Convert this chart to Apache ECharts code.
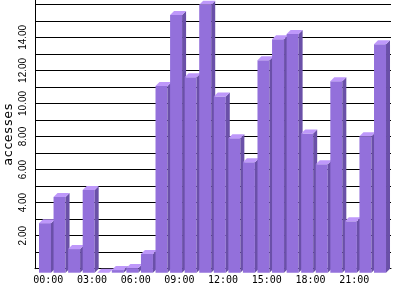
<!DOCTYPE html>
<html>
<head>
<meta charset="utf-8">
<script src="https://cdn.jsdelivr.net/npm/echarts@6/dist/echarts.min.js"></script>
<style>
html,body{margin:0;padding:0;background:#fff;}
#chart{width:400px;height:300px;}
</style>
</head>
<body>
<div id="chart"></div>
<script>
const categories = ["00:00","01:00","02:00","03:00","04:00","05:00","06:00","07:00","08:00","09:00","10:00","11:00","12:00","13:00","14:00","15:00","16:00","17:00","18:00","19:00","20:00","21:00","22:00","23:00"];
const accesses = [3.0, 4.58, 1.43, 5.0, 0, 0.16, 0.28, 1.13, 11.3, 15.59, 11.82, 16.21, 10.67, 8.13, 6.68, 12.85, 14.12, 14.44, 8.43, 6.56, 11.58, 3.11, 8.25, 13.83];
const yLabelValues = [2, 4, 6, 8, 10, 12, 14];
const yName = "accesses";

const FRONT = '#9370DB', SIDE = '#6A50A8', TOP = '#BE98FA';
const chart = echarts.init(document.getElementById('chart'), null, {renderer: 'canvas'});

function renderBar(params, api) {
  const idx = api.value(0), val = api.value(1);
  const pt = api.coord([idx, val]);
  const base = api.coord([idx, 0]);
  const d = 4, w = 12;
  const fx = pt[0] - 9.3;
  const fy = pt[1] + d;
  const fb = base[1] + d;
  return {
    type: 'group',
    children: [
      {type: 'rect', shape: {x: fx, y: fy, width: w, height: fb - fy}, style: {fill: FRONT}},
      {type: 'polygon', shape: {points: [[fx + w, fy], [fx + w + d, fy - d], [fx + w + d, fb - d], [fx + w, fb]]}, style: {fill: SIDE}},
      {type: 'polygon', shape: {points: [[fx, fy], [fx + d, fy - d], [fx + w + d, fy - d], [fx + w, fy]]}, style: {fill: TOP}}
    ]
  };
}

const option = {
  backgroundColor: '#fff',
  animation: false,
  grid: [
    {left: 35, right: 9, top: 4.3, bottom: 31.3, containLabel: false, outerBoundsMode: 'none'},
    {left: 35, right: 9, top: 0, bottom: 31.3, containLabel: false, outerBoundsMode: 'none'},
    {left: 41, width: 349.6, top: 4.3, bottom: 31.3, containLabel: false, outerBoundsMode: 'none'}
  ],
  xAxis: [
    {gridIndex: 0, type: 'value', min: 0, max: 1, axisLine: {show: true, onZero: false, lineStyle: {color: '#000', width: 1}}, axisTick: {show: false}, axisLabel: {show: false}, splitLine: {show: false}},
    {gridIndex: 1, type: 'value', min: 0, max: 1, show: false},
    {gridIndex: 2, type: 'category', data: categories, boundaryGap: true,
      axisLine: {show: false}, axisTick: {show: false}, splitLine: {show: false},
      axisLabel: {interval: 2, margin: 7, color: '#000', fontFamily: 'DejaVu Sans Mono', fontSize: 10}}
  ],
  yAxis: [
    {gridIndex: 0, type: 'value', min: 0, max: 16, interval: 1,
      axisLine: {show: false}, axisTick: {show: false},
      splitLine: {show: true, lineStyle: {color: '#000', width: 1}},
      axisLabel: {rotate: 90, margin: 7, color: '#000', fontFamily: 'Liberation Sans', fontSize: 10,
        formatter: function (v) { return yLabelValues.indexOf(v) >= 0 ? v.toFixed(2) : ''; }}},
    {gridIndex: 1, type: 'value', min: 0, max: 1,
      axisLine: {show: true, lineStyle: {color: '#000', width: 1}}, axisTick: {show: false}, axisLabel: {show: false}, splitLine: {show: false},
      name: yName, nameLocation: 'middle', nameRotate: 90, nameGap: 20, nameMoveOverlap: false,
      nameTextStyle: {color: '#000', fontFamily: 'DejaVu Sans Mono', fontSize: 13}},
    {gridIndex: 2, type: 'value', min: 0, max: 16, show: false}
  ],
  series: [{
    type: 'custom',
    xAxisIndex: 2, yAxisIndex: 2,
    z: 10,
    clip: false,
    renderItem: renderBar,
    data: accesses.map(function (v, i) { return [i, v]; })
  }]
};
chart.setOption(option);
</script>
</body>
</html>
